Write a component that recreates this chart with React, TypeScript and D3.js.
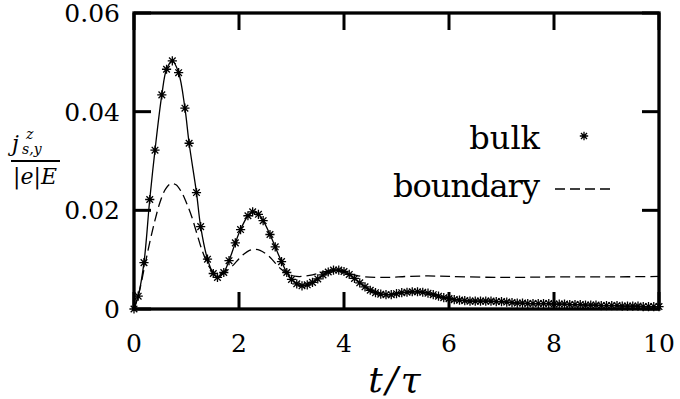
import React from 'react';
import * as d3 from 'd3';

// values
const bulkT = [
  0, 0.08, 0.19, 0.3, 0.4, 0.53, 0.62, 0.73, 0.85, 0.97, 1.05, 1.19, 1.27, 1.4, 1.51, 1.59,
  1.71, 1.81, 1.93, 2.03, 2.17, 2.26, 2.37, 2.46, 2.59, 2.69, 2.81, 2.91,
  3.0, 3.1, 3.2, 3.3, 3.4, 3.5, 3.6, 3.7, 3.8, 3.9, 4.0, 4.1, 4.2, 4.3, 4.4, 4.5, 4.6, 4.7,
  4.8, 4.9, 5.0, 5.1, 5.2, 5.3, 5.4, 5.5, 5.6, 5.7, 5.8, 5.9, 6.0, 6.1, 6.2, 6.3, 6.4, 6.5,
  6.6, 6.7, 6.8, 6.9, 7.0, 7.1, 7.2, 7.3, 7.4, 7.5, 7.6, 7.7, 7.8, 7.9, 8.0, 8.1, 8.2, 8.3,
  8.4, 8.5, 8.6, 8.7, 8.8, 8.9, 9.0, 9.1, 9.2, 9.3, 9.4, 9.5, 9.6, 9.7, 9.8, 9.9, 10.0,
];
const bulkV = [
  0, 0.0026, 0.0094, 0.0222, 0.0322, 0.0434, 0.0486, 0.0503, 0.0479, 0.0407, 0.0336, 0.0236,
  0.0167, 0.0101, 0.0072, 0.0064, 0.0074, 0.0098, 0.0134, 0.0161, 0.0189, 0.0197, 0.0192,
  0.0179, 0.0151, 0.0126, 0.0096, 0.0074,
  0.006, 0.0051, 0.0047, 0.0049, 0.0054, 0.0061, 0.0069, 0.0075, 0.0079, 0.0079, 0.0076,
  0.007, 0.0062, 0.0053, 0.0045, 0.0038, 0.0033, 0.003, 0.0029, 0.0029, 0.0031, 0.0033,
  0.0034, 0.0035, 0.0035, 0.0034, 0.0032, 0.0029, 0.0026, 0.0023, 0.0021, 0.0019, 0.0018,
  0.0017, 0.0016, 0.0016, 0.0016, 0.0016, 0.0016, 0.0015, 0.0015, 0.0014, 0.0013, 0.0012,
  0.0012, 0.0011, 0.0011, 0.0011, 0.0011, 0.0011, 0.001, 0.001, 0.001, 0.0009, 0.0009,
  0.0009, 0.0008, 0.0008, 0.0008, 0.0007, 0.0007, 0.0007, 0.0007, 0.0006, 0.0006, 0.0006,
  0.0006, 0.0005, 0.0005, 0.0005, 0.0005,
];
const boundaryT = [
  0, 0.1, 0.2, 0.3, 0.4, 0.5, 0.6, 0.7, 0.8, 0.9, 1.0, 1.1, 1.2, 1.3, 1.4, 1.5, 1.6, 1.7,
  1.8, 1.9, 2.0, 2.1, 2.2, 2.3, 2.4, 2.5, 2.6, 2.7, 2.8, 2.9, 3.0, 3.1, 3.2, 3.4, 3.6, 3.8,
  4.0, 4.2, 4.4, 4.8, 5.2, 5.6, 6.0, 7.0, 8.0, 9.0, 10.0,
];
const boundaryV = [
  0, 0.0035, 0.0085, 0.0135, 0.018, 0.0218, 0.0243, 0.0254, 0.0252, 0.0238, 0.0215, 0.0187,
  0.0152, 0.0118, 0.0092, 0.0076, 0.0071, 0.0073, 0.008, 0.009, 0.0102, 0.0112, 0.0119,
  0.0121, 0.0119, 0.0113, 0.0104, 0.0092, 0.0081, 0.0073, 0.0068, 0.0066, 0.0066, 0.0069,
  0.0075, 0.0078, 0.0075, 0.0069, 0.0065, 0.0064, 0.0066, 0.0067, 0.0066, 0.0064, 0.0065,
  0.0065, 0.0066,
];
const xTicks = [0, 2, 4, 6, 8, 10];
const yTicks = [0, 0.02, 0.04, 0.06];
const yTickLabels = ['0', '0.02', '0.04', '0.06'];
const legendLabels = ['bulk', 'boundary'];

const W = 680;
const H = 399;
const plot = { left: 134, right: 659, top: 13, bottom: 309 };
const serif = { fontFamily: "'DejaVu Serif', serif" };

const star = (r: number) => {
  const d = r * 0.72;
  return `M${-r},0H${r}M0,${-r}V${r}M${-d},${-d}L${d},${d}M${-d},${d}L${d},${-d}`;
};

const App = () => {
  const x = d3.scaleLinear().domain([0, 10]).range([plot.left, plot.right]);
  const y = d3.scaleLinear().domain([0, 0.06]).range([plot.bottom, plot.top]);

  const bulk = bulkT.map((t, i) => [t, bulkV[i]] as [number, number]);
  const boundary = boundaryT.map((t, i) => [t, boundaryV[i]] as [number, number]);

  const line = d3.line<[number, number]>()
    .x((d) => x(d[0]))
    .y((d) => y(d[1]))
    .curve(d3.curveCatmullRom);

  const tickLen = 17;

  return (
    <svg width={W} height={H} style={{ position: 'absolute', left: 0, top: 0, background: '#fff' }}>
      {/* curves */}
      <path d={line(boundary) || ''} fill="none" stroke="#000" strokeWidth={1.3} strokeDasharray="10,5" />
      <path d={line(bulk) || ''} fill="none" stroke="#000" strokeWidth={1.3} />
      {bulk.map((d, i) => (
        <path
          key={i}
          d={star(4.6)}
          transform={`translate(${x(d[0])},${y(d[1])})`}
          fill="none"
          stroke="#000"
          strokeWidth={1.3}
        />
      ))}

      {/* ticks, mirrored on top and right */}
      {xTicks.map((t) => (
        <g key={`x${t}`}>
          <line x1={x(t)} x2={x(t)} y1={plot.bottom} y2={plot.bottom - tickLen} stroke="#000" strokeWidth={3} />
          <line x1={x(t)} x2={x(t)} y1={plot.top} y2={plot.top + tickLen} stroke="#000" strokeWidth={3} />
          <text x={x(t)} y={352} fontSize={25} textAnchor="middle" style={serif}>{t}</text>
        </g>
      ))}
      {yTicks.map((v, i) => (
        <g key={`y${v}`}>
          <line x1={plot.left} x2={plot.left + tickLen} y1={y(v)} y2={y(v)} stroke="#000" strokeWidth={3} />
          <line x1={plot.right} x2={plot.right - tickLen} y1={y(v)} y2={y(v)} stroke="#000" strokeWidth={3} />
          <text x={120} y={y(v) + 9} fontSize={25} textAnchor="end" style={serif}>{yTickLabels[i]}</text>
        </g>
      ))}

      {/* frame */}
      <rect
        x={plot.left}
        y={plot.top}
        width={plot.right - plot.left}
        height={plot.bottom - plot.top}
        fill="none"
        stroke="#000"
        strokeWidth={3.3}
      />

      {/* legend */}
      <text x={540} y={149} fontSize={32} textAnchor="end" style={serif}>{legendLabels[0]}</text>
      <path d={star(4.2)} transform="translate(584,136)" fill="none" stroke="#000" strokeWidth={1.3} />
      <text x={540} y={197} fontSize={32} textAnchor="end" textLength={147} lengthAdjust="spacing" style={serif}>
        {legendLabels[1]}
      </text>
      <line x1={555} x2={614} y1={189} y2={189} stroke="#000" strokeWidth={1.3} strokeDasharray="10,5" />

      {/* x label */}
      <text x={396} y={392} fontSize={36} textAnchor="middle" fontStyle="italic" letterSpacing={3} style={serif}>
        t/τ
      </text>

      {/* y label as fraction */}
      <text fontStyle="italic" style={serif}>
        <tspan x={12} y={151} fontSize={22}>j</tspan>
        <tspan x={26} y={139} fontSize={14}>z</tspan>
        <tspan x={22} y={154} fontSize={14}>s,y</tspan>
      </text>
      <line x1={11} x2={60} y1={161} y2={161} stroke="#000" strokeWidth={2} />
      <text x={13} y={184} fontSize={22} textLength={44} lengthAdjust="spacing" style={serif}>
        <tspan>|</tspan>
        <tspan fontStyle="italic">e</tspan>
        <tspan>|</tspan>
        <tspan fontStyle="italic">E</tspan>
      </text>
    </svg>
  );
};

export default App;
